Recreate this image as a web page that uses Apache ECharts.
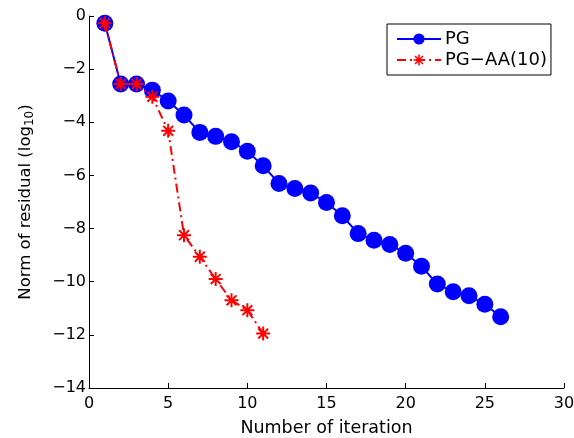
<!DOCTYPE html>
<html>
<head>
<meta charset="utf-8">
<script src="https://cdn.jsdelivr.net/npm/echarts@6/dist/echarts.min.js"></script>
<style>html,body{margin:0;padding:0;background:#fff}#c{width:574px;height:438px}</style>
</head>
<body>
<div id="c"></div>
<script>
var iterPG = [1,2,3,4,5,6,7,8,9,10,11,12,13,14,15,16,17,18,19,20,21,22,23,24,25,26];
var residPG = [-0.27,-2.56,-2.56,-2.79,-3.2,-3.73,-4.38,-4.53,-4.73,-5.09,-5.64,-6.3,-6.49,-6.66,-7.02,-7.52,-8.19,-8.44,-8.6,-8.93,-9.42,-10.09,-10.38,-10.53,-10.85,-11.32];
var iterAA = [1,2,3,4,5,6,7,8,9,10,11];
var residAA = [-0.27,-2.56,-2.56,-3.04,-4.32,-8.25,-9.06,-9.9,-10.7,-11.07,-11.95];
var seriesNames = ['PG', 'PG\u2212AA(10)'];

var FONT = '"DejaVu Sans", "Liberation Sans", Arial, sans-serif';
var star = 'path://M-1.4,-10L1.4,-10L1.4,10L-1.4,10Z M-10,-1.4L10,-1.4L10,1.4L-10,1.4Z M6.08,8.06L-8.06,-6.08L-6.08,-8.06L8.06,6.08Z M8.06,-6.08L-6.08,8.06L-8.06,6.08L6.08,-8.06Z';

function pairs(xs, ys){ return xs.map(function(x,i){ return [x, ys[i]]; }); }
function fmt(v){ return String(v).replace('-', '\u2212'); }

var chart = echarts.init(document.getElementById('c'), null, {renderer:'canvas'});
chart.setOption({
  animation: false,
  backgroundColor: '#fff',
  grid: {left: 89, right: 10, top: 16, bottom: 50, containLabel: false, outerBoundsMode: 'none'},
  xAxis: {
    type: 'value', min: 0, max: 30, interval: 5,
    name: 'Number of iteration', nameLocation: 'middle', nameGap: 31,
    nameTextStyle: {color: '#000', fontSize: 17.5, fontFamily: FONT},
    axisLine: {show: true, onZero: false, lineStyle: {color: '#000', width: 1}},
    axisTick: {show: true, inside: true, length: 5, lineStyle: {color: '#000'}},
    axisLabel: {color: '#000', fontSize: 16, fontFamily: FONT, margin: 8, formatter: fmt},
    splitLine: {show: false}
  },
  yAxis: {
    type: 'value', min: -14, max: 0, interval: 2,
    name: '{m|Norm of residual (log}{s|10}{m|)}', nameLocation: 'middle', nameGap: 53,
    nameTextStyle: {color: '#000', fontSize: 16.5, fontFamily: FONT,
      rich: {m: {fontSize: 16.5, fontFamily: FONT, color:'#000'}, s: {fontSize: 12, fontFamily: FONT, color:'#000', padding: [9,0,0,0]}}},
    axisLine: {show: true, onZero: false, lineStyle: {color: '#000', width: 1}},
    axisTick: {show: true, inside: true, length: 5, lineStyle: {color: '#000'}},
    axisLabel: {color: '#000', fontSize: 16, fontFamily: FONT, margin: 3, formatter: fmt},
    splitLine: {show: false}
  },
  legend: {
    left: 387, top: 24, orient: 'vertical',
    backgroundColor: '#fff', borderColor: '#000', borderWidth: 1, borderRadius: 0,
    padding: [6, 4, 6, 9], itemWidth: 44, itemHeight: 14, itemGap: 3,
    textStyle: {color: '#000', fontSize: 18, fontFamily: FONT, padding: [0,0,0,-1]},
    data: [
      {name: seriesNames[0]},
      {name: seriesNames[1]}
    ]
  },
  series: [
    {
      name: seriesNames[0], type: 'line', data: pairs(iterPG, residPG),
      symbol: 'circle', symbolSize: 17,
      lineStyle: {color: '#0000ff', width: 2},
      itemStyle: {color: '#0000ff'},
      z: 2
    },
    {
      name: seriesNames[1], type: 'line', data: pairs(iterAA, residAA),
      symbol: star, symbolSize: 14,
      lineStyle: {color: '#ff0000', width: 2, type: [9,4,2,4]},
      itemStyle: {color: '#ff0000'},
      z: 3
    }
  ]
});
</script>
</body>
</html>
